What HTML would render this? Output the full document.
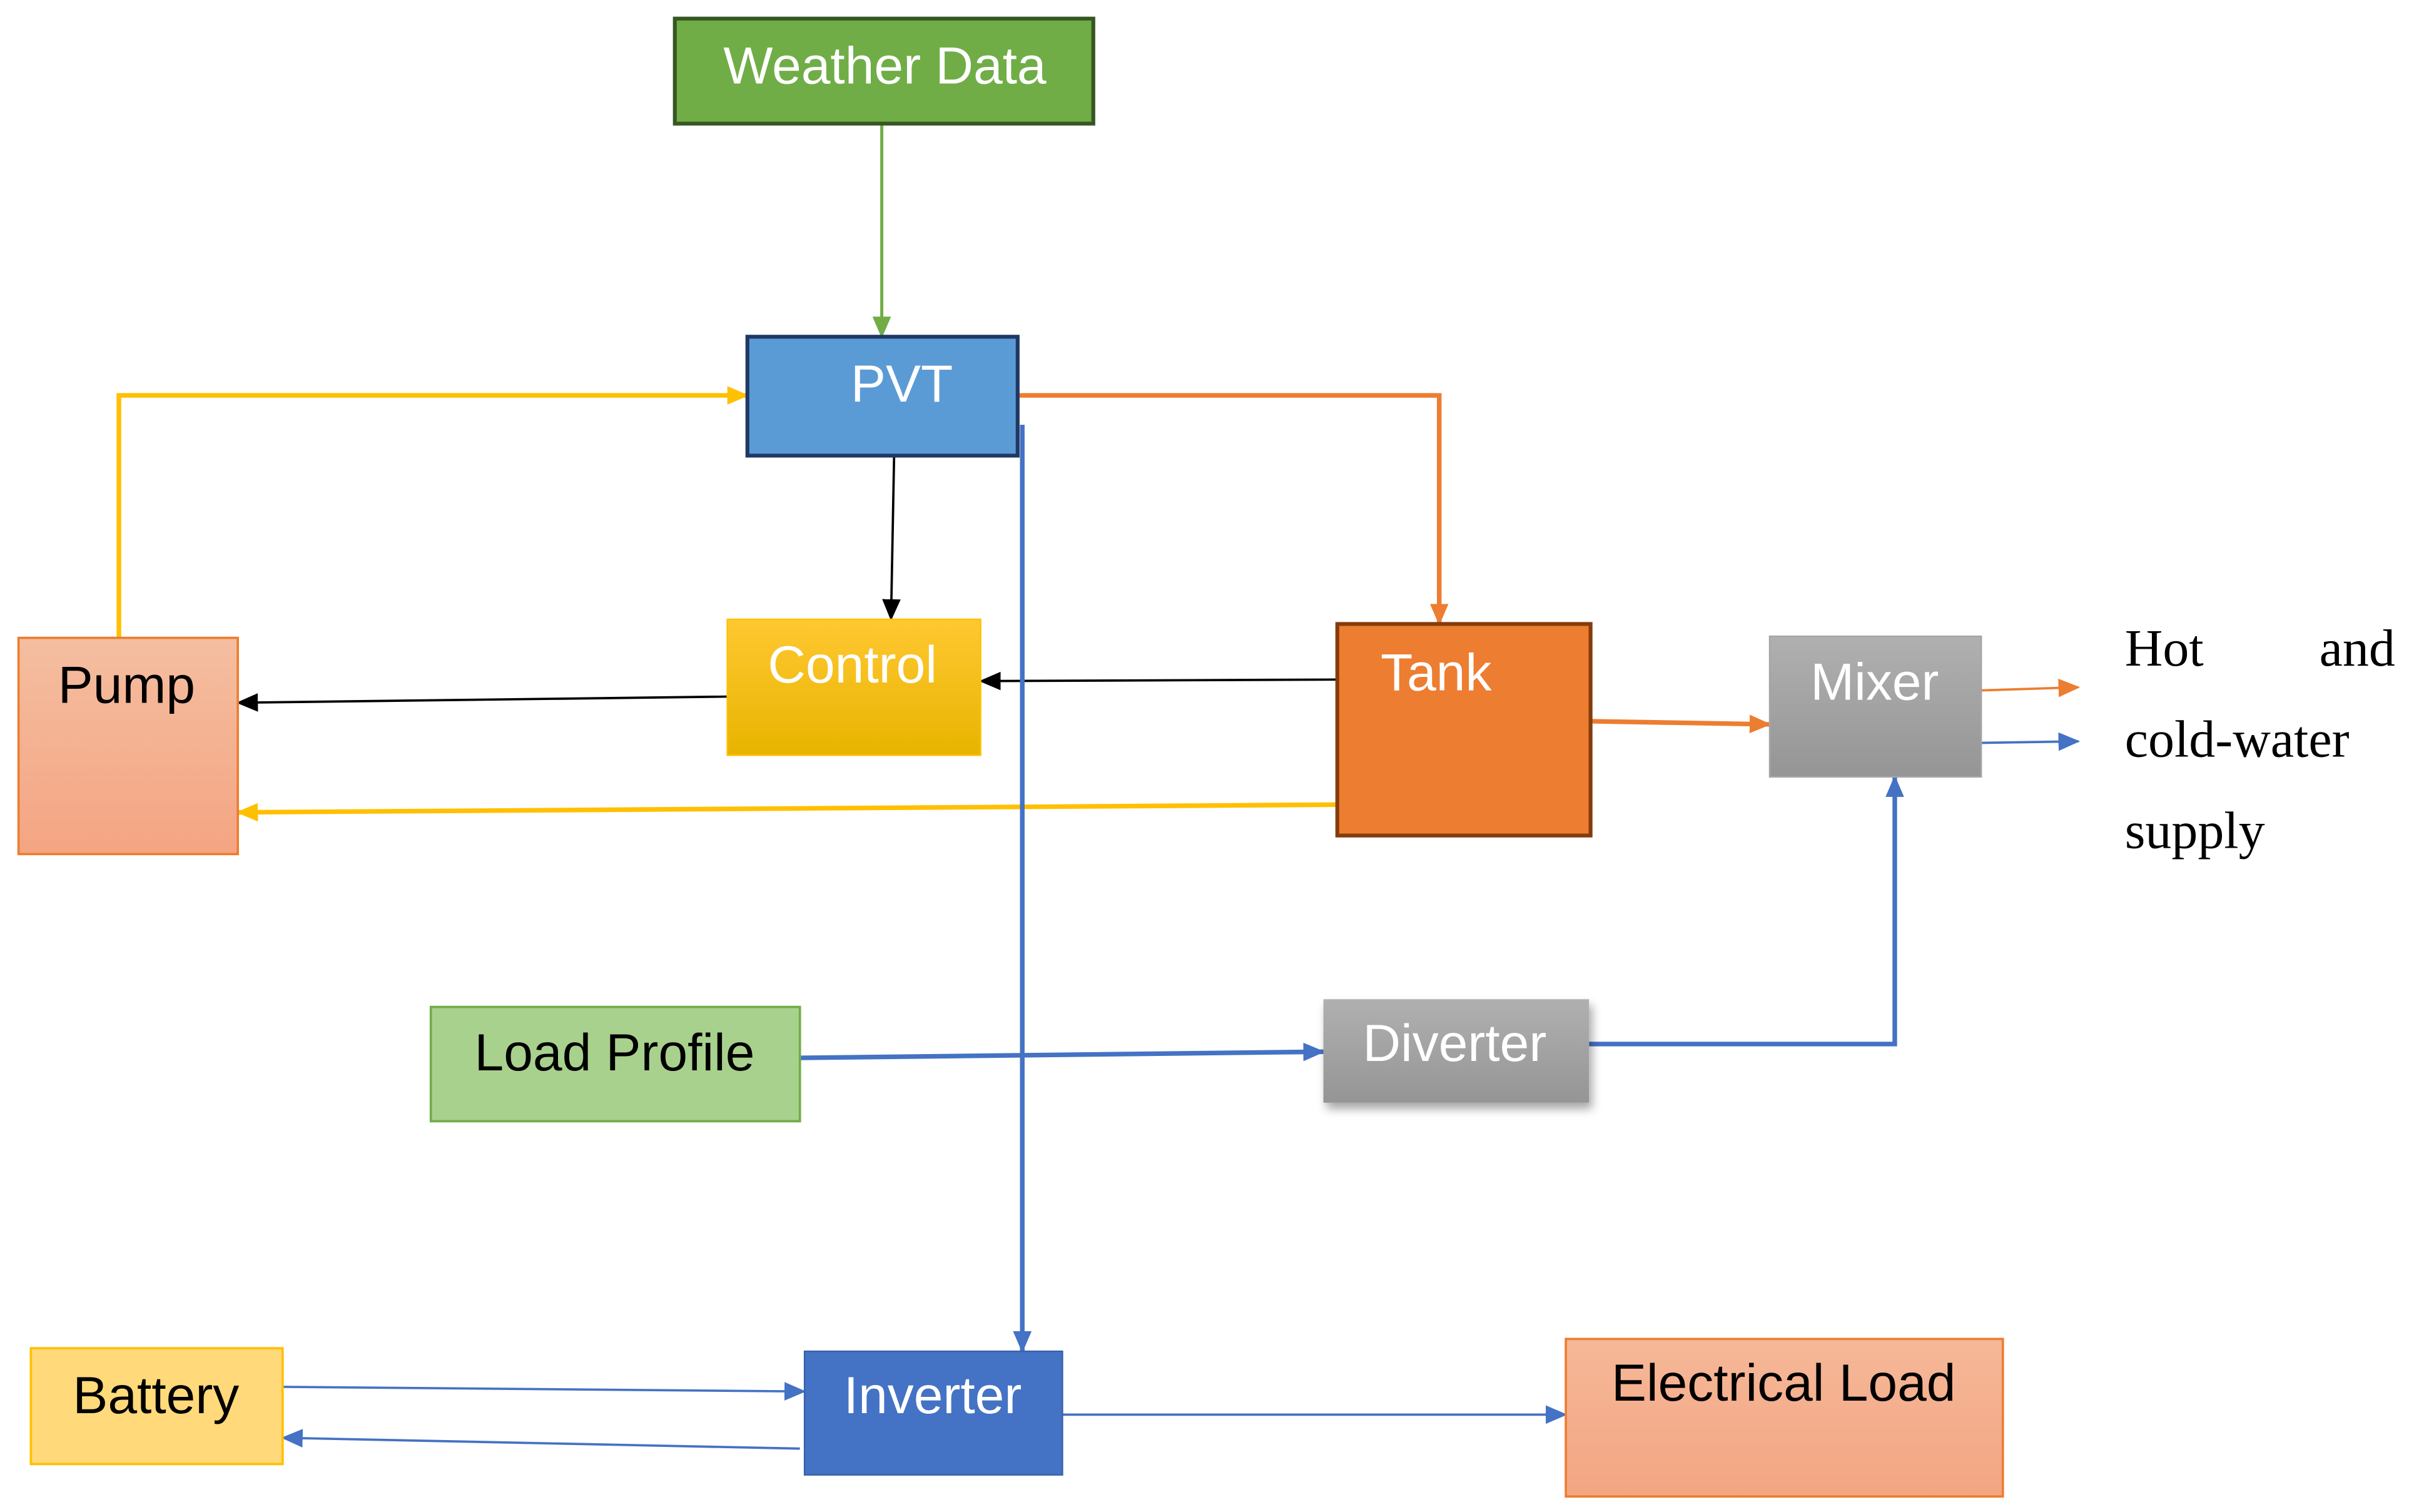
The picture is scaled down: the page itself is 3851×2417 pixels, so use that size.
<!DOCTYPE html>
<html><head><meta charset="utf-8"><style>
html,body{margin:0;padding:0;background:#fff;}
svg{display:block;}
text{font-family:"Liberation Sans",sans-serif;}
</style></head><body>
<svg width="3851" height="2417" viewBox="0 0 1560 979" xmlns="http://www.w3.org/2000/svg">
<defs>
<linearGradient id="gy" x1="0" y1="0" x2="0" y2="1"><stop offset="0" stop-color="#ffc832"/><stop offset="1" stop-color="#e8b400"/></linearGradient>
<linearGradient id="gp" x1="0" y1="0" x2="0" y2="1"><stop offset="0" stop-color="#f4bea0"/><stop offset="1" stop-color="#f4a582"/></linearGradient>
<linearGradient id="gg" x1="0" y1="0" x2="0" y2="1"><stop offset="0" stop-color="#b0b0b0"/><stop offset="1" stop-color="#959595"/></linearGradient>
<linearGradient id="ge" x1="0" y1="0" x2="0" y2="1"><stop offset="0" stop-color="#f5b898"/><stop offset="1" stop-color="#f4a582"/></linearGradient>
<marker id="aG" markerWidth="14" markerHeight="12" refX="13" refY="6" orient="auto" markerUnits="userSpaceOnUse"><path d="M0,0 L14,6 L0,12 z" fill="#70ad47"/></marker>
<marker id="aY" markerWidth="14" markerHeight="12" refX="13" refY="6" orient="auto" markerUnits="userSpaceOnUse"><path d="M0,0 L14,6 L0,12 z" fill="#ffc000"/></marker>
<marker id="aO" markerWidth="14" markerHeight="12" refX="13" refY="6" orient="auto" markerUnits="userSpaceOnUse"><path d="M0,0 L14,6 L0,12 z" fill="#ed7d31"/></marker>
<marker id="aK" markerWidth="14" markerHeight="12" refX="13" refY="6" orient="auto" markerUnits="userSpaceOnUse"><path d="M0,0 L14,6 L0,12 z" fill="#000"/></marker>
<marker id="aB" markerWidth="14" markerHeight="12" refX="13" refY="6" orient="auto" markerUnits="userSpaceOnUse"><path d="M0,0 L14,6 L0,12 z" fill="#4472c4"/></marker>
<filter id="sh" x="-10%" y="-10%" width="130%" height="140%"><feDropShadow dx="2" dy="4" stdDeviation="3" flood-color="#000" flood-opacity="0.35"/></filter>
</defs>

<line x1="571" y1="80" x2="571" y2="218" stroke="#70ad47" stroke-width="2" marker-end="url(#aG)"/>
<polyline points="77,413 77,256 484,256" fill="none" stroke="#ffc000" stroke-width="3" marker-end="url(#aY)"/>
<polyline points="659,256 932,256 932,404" fill="none" stroke="#ed7d31" stroke-width="3" marker-end="url(#aO)"/>
<line x1="579" y1="295" x2="577" y2="401" stroke="#000" stroke-width="1.5" marker-end="url(#aK)"/>
<line x1="866" y1="440" x2="635" y2="441" stroke="#000" stroke-width="1.5" marker-end="url(#aK)"/>
<line x1="474" y1="451" x2="154" y2="455" stroke="#000" stroke-width="1.5" marker-end="url(#aK)"/>
<line x1="866" y1="521" x2="154" y2="526" stroke="#ffc000" stroke-width="3" marker-end="url(#aY)"/>
<line x1="1030" y1="467" x2="1146" y2="469" stroke="#ed7d31" stroke-width="3" marker-end="url(#aO)"/>
<line x1="1283" y1="447" x2="1346" y2="445" stroke="#ed7d31" stroke-width="1.5" marker-end="url(#aO)"/>
<line x1="1283" y1="481" x2="1346" y2="480" stroke="#4472c4" stroke-width="1.5" marker-end="url(#aB)"/>
<line x1="518" y1="685" x2="857" y2="681" stroke="#4472c4" stroke-width="3" marker-end="url(#aB)"/>
<polyline points="1029,676 1227,676 1227,503" fill="none" stroke="#4472c4" stroke-width="3" marker-end="url(#aB)"/>
<line x1="662" y1="275" x2="662" y2="875" stroke="#4472c4" stroke-width="3" marker-end="url(#aB)"/>
<line x1="183" y1="898" x2="521" y2="901" stroke="#4472c4" stroke-width="1.5" marker-end="url(#aB)"/>
<line x1="518" y1="938" x2="183" y2="931" stroke="#4472c4" stroke-width="1.5" marker-end="url(#aB)"/>
<line x1="688" y1="916" x2="1014" y2="916" stroke="#4472c4" stroke-width="1.5" marker-end="url(#aB)"/>

<rect x="437" y="12" width="271" height="68" fill="#70ad47" stroke="#375623" stroke-width="2.5"/>
<text x="573" y="54" font-size="34" fill="#fff" text-anchor="middle">Weather Data</text>

<rect x="484" y="218" width="175" height="77" fill="#5b9bd5" stroke="#1f3864" stroke-width="2.5"/>
<text x="584" y="260" font-size="34" fill="#fff" text-anchor="middle">PVT</text>

<rect x="471" y="401" width="164" height="88" fill="url(#gy)" stroke="#ffc000" stroke-width="1"/>
<text x="552" y="442" font-size="34" fill="#fff" text-anchor="middle">Control</text>

<rect x="12" y="413" width="142" height="140" fill="url(#gp)" stroke="#ed7d31" stroke-width="1.5"/>
<text x="82" y="455" font-size="34" fill="#000" text-anchor="middle">Pump</text>

<rect x="866" y="404" width="164" height="137" fill="#ed7d31" stroke="#843c0c" stroke-width="2.5"/>
<text x="930" y="447" font-size="34" fill="#fff" text-anchor="middle">Tank</text>

<rect x="1146" y="412" width="137" height="91" fill="url(#gg)" stroke="#a5a5a5" stroke-width="1"/>
<text x="1214" y="453" font-size="34" fill="#fff" text-anchor="middle">Mixer</text>

<g font-size="34" fill="#000">
<text x="1376" y="431" style="font-family:'Liberation Serif',serif">Hot</text>
<text x="1551" y="431" text-anchor="end" style="font-family:'Liberation Serif',serif">and</text>
<text x="1376" y="490" style="font-family:'Liberation Serif',serif">cold-water</text>
<text x="1376" y="549" style="font-family:'Liberation Serif',serif">supply</text>
</g>

<rect x="279" y="652" width="239" height="74" fill="#a9d18e" stroke="#70ad47" stroke-width="1.5"/>
<text x="398" y="693" font-size="34" fill="#000" text-anchor="middle">Load Profile</text>

<rect x="857" y="647" width="172" height="67" fill="url(#gg)" filter="url(#sh)"/>
<text x="942" y="687" font-size="34" fill="#fff" text-anchor="middle">Diverter</text>

<rect x="20" y="873" width="163" height="75" fill="#ffd97a" stroke="#ffc000" stroke-width="1.5"/>
<text x="101" y="915" font-size="34" fill="#000" text-anchor="middle">Battery</text>

<rect x="521" y="875" width="167" height="80" fill="#4472c4" stroke="#3a62a8" stroke-width="1"/>
<text x="604" y="915" font-size="34" fill="#fff" text-anchor="middle">Inverter</text>

<rect x="1014" y="867" width="283" height="102" fill="url(#ge)" stroke="#ed7d31" stroke-width="1.5"/>
<text x="1155" y="907" font-size="34" fill="#000" text-anchor="middle">Electrical Load</text>
</svg>
</body></html>
